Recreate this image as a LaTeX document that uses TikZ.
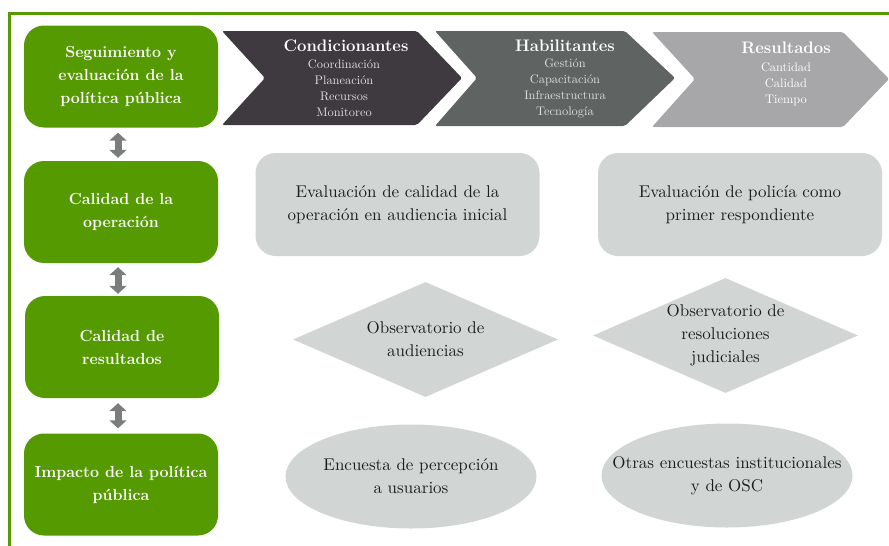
\documentclass[tikz,border=0pt]{standalone}
\usepackage{fontspec}
\newfontfamily\lmten{lmroman10}[Extension=.otf, UprightFont=*-regular, BoldFont=*-bold]
\usetikzlibrary{shapes.geometric,arrows.meta,calc}
\definecolor{vgreen}{RGB}{85,154,0}
\definecolor{chA}{RGB}{62,58,63}
\definecolor{chB}{RGB}{95,100,98}
\definecolor{chC}{RGB}{167,167,169}
\definecolor{lgray}{RGB}{209,214,213}
\definecolor{dtext}{RGB}{30,30,30}
\definecolor{agray}{RGB}{123,125,125}
\definecolor{itemlt}{RGB}{222,222,222}
\begin{document}
\begin{tikzpicture}[x=1pt,y=-1pt,
  greenbox/.style={rectangle, rounded corners=20pt, fill=vgreen, text=white,
    font=\fontsize{16}{23}\selectfont\bfseries, align=center,
    minimum width=194pt, minimum height=102pt, inner sep=0pt},
  graybox/.style={rectangle, rounded corners=20pt, fill=lgray, text=dtext,
    font=\lmten\fontsize{17}{23}\selectfont, align=center,
    minimum width=284pt, minimum height=103pt, inner sep=0pt},
  graydiam/.style={diamond, fill=lgray, minimum width=265pt, minimum height=115pt, inner sep=0pt},
  grayell/.style={ellipse, fill=lgray, minimum width=251pt, minimum height=104pt, inner sep=0pt},
  graytext/.style={text=dtext, font=\lmten\fontsize{17}{23}\selectfont, align=center, inner sep=0pt},
  chevtitle/.style={text=white, font=\fontsize{16.7}{20}\selectfont\bfseries, inner sep=0pt},
  chevitems/.style={font=\lmten\fontsize{12.4}{16}\selectfont, align=center, inner sep=0pt},
  chevshape/.style={rounded corners=2pt},
  dblarrow/.style={draw=agray, line width=7pt,
    {Triangle[length=8pt,width=17pt]}-{Triangle[length=8pt,width=17pt]}}
]
\useasboundingbox (0,0) rectangle (889,546);
% frame
\draw[vgreen, line width=3pt] (892,13.5) -- (9.5,13.5) -- (9.5,549);

% chevrons
\fill[chA, chevshape] (222,31) -- (417,31) -- (462,78) -- (417,125) -- (222,125) -- (265,78) -- cycle;
\fill[chB, chevshape] (435,31) -- (625,31) -- (675,78) -- (625,126) -- (435,126) -- (477,78) -- cycle;
\fill[chC, chevshape] (652,32) -- (843,32) -- (889,79) -- (843,127) -- (652,127) -- (695,79) -- cycle;

\node[chevtitle] (tA) at (346,46) {Condicionantes};
\node[chevitems, text=itemlt] (iA) at (344,88) {Coordinación\\Planeación\\Recursos\\Monitoreo};
\node[chevtitle] (tB) at (565,46) {Habilitantes};
\node[chevitems, text=itemlt] (iB) at (565,88) {Gestión\\Capacitación\\Infraestructura\\Tecnología};
\node[chevtitle] (tC) at (786,48) {Resultados};
\node[chevitems, text=white] (iC) at (786,84) {Cantidad\\Calidad\\Tiempo};

% green boxes
\node[greenbox] (g1) at (121,76.5) {Seguimiento y\\evaluación de la\\política pública};
\node[greenbox] (g2) at (121,212) {Calidad de la\\operación};
\node[greenbox] (g3) at (122,347) {Calidad de\\resultados};
\node[greenbox] (g4) at (121,484.5) {Impacto de la política\\pública};

% arrows
\draw[dblarrow] ([xshift=-3pt,yshift=-5pt]g1.south) -- ([xshift=-3pt,yshift=3pt]g2.north);
\draw[dblarrow] ([xshift=-3pt,yshift=-4pt]g2.south) -- ([xshift=-4pt,yshift=2pt]g3.north);
\draw[dblarrow] ([xshift=-4pt,yshift=-5pt]g3.south) -- ([xshift=-3pt,yshift=5pt]g4.north);

% gray boxes
\node[graybox] (bA) at (397.5,204.5) {Evaluación de calidad de la\\operación en audiencia inicial};
\node[graybox] (bB) at (740,204.5) {Evaluación de policía como\\primer respondiente};

% diamonds
\node[graydiam] (dA) at (425.5,339.5) {};
\node[graytext] (dAt) at (dA.center) {Observatorio de\\audiencias};
\node[graydiam] (dB) at (725.5,335.5) {};
\node[graytext] (dBt) at (dB.center) {Observatorio de\\resoluciones\\judiciales};

% ellipses
\node[grayell] (eA) at (411,476.5) {};
\node[graytext] (eAt) at (eA.center) {Encuesta de percepción\\a usuarios};
\node[grayell] (eB) at (727,475.5) {};
\node[graytext] (eBt) at (eB.center) {Otras encuestas institucionales\\y de OSC};
\end{tikzpicture}
\end{document}
